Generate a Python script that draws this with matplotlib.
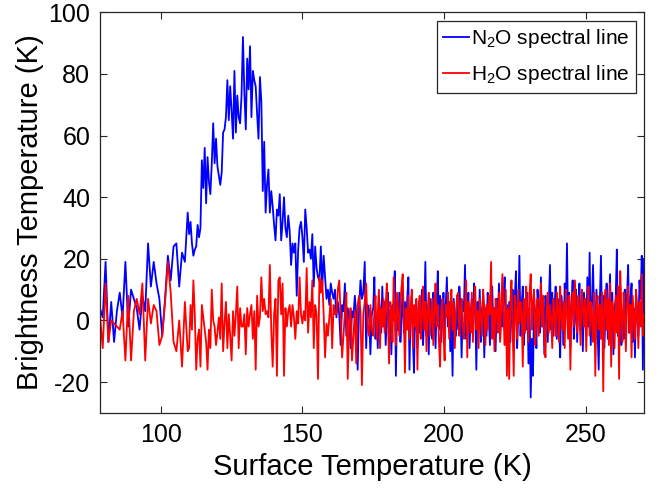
import numpy as np
import matplotlib
matplotlib.use("Agg")
import matplotlib.pyplot as plt

plt.rcParams['font.family'] = ['Liberation Sans', 'DejaVu Sans']
plt.rcParams['mathtext.fontset'] = 'custom'
plt.rcParams['mathtext.rm'] = 'Liberation Sans'
plt.rcParams['mathtext.it'] = 'Liberation Sans'
plt.rcParams['axes.unicode_minus'] = False

# sample grid segments: (start, step) - the sampling gets denser at higher T
seg_a = (78.5, 1.0)
seg_b = (110.0, 0.5)
seg_c = (142.0, 0.5)
seg_d = (175.0, 0.4)

# N2O spectral line
n2o_a = [4, 1, 19, -7, 6, -7, 3, 9, 1, 19, -2, 10, 7, 4, -3, 8,
         3, 25, 11, 19, 12, 7, -5, 7, 21, 13, 24, 25, 11, 22, 19, 35]
n2o_b = [28, 32, 25, 21, 23, 24, 31, 27, 30, 52, 43, 56, 38, 53, 45, 41,
         51, 64, 51, 59, 50, 47, 44, 48, 61, 62, 66, 78, 65, 76, 68, 59,
         81, 61, 73, 66, 64, 73, 92, 74, 62, 85, 75, 89, 66, 81, 78, 76,
         67, 59, 79, 71, 42, 58, 35, 44, 49, 35, 42, 37, 31, 26, 36, 34]
n2o_c = [41, 26, 32, 40, 30, 27, 34, 29, 18, 25, 22, 25, 8, 23, 30, 32,
         27, 19, 36, 30, 22, 23, 20, 28, 11, 24, 17, 14, 13, 24, 11, 21,
         14, 7, 10, 5, 12, 9, 7, 10, 1, 6, 2, -8, 5, 3, 12, -5,
         4, 1, -9, 3, 1, 8, 2, -16, 4, 13, 7, 9, 19, -9, 5, 3, -11, 2]
n2o_d = [4, 14, -6, 2, -9, 8, 3, -4, 11, -2, 6, -8, 1, 9, -5, 3, -11, 5, 0, 16,
         -18, 4, -3, 9, -7, 2, 10, -4, 6, -2, 7, 14, -16, 3, 8, -6, -17, 5, 1, -9,
         6, -4, 3, 10, -8, 2, 19, -5, 4, -11, 7, 0, -6, 9, 3, -9, 5, 16, -3, 8,
         -7, 2, 9, -4, 5, 14, -2, 6, -10, 3, -18, 7, 1, -5, 8, -3, 11, 4, -12, 6,
         3, 18, -6, 4, 9, -9, 2, 7, -3, 12, 5, -16, 6, -2, 10, -7, 3, 8, -12, 4,
         -5, 9, 2, -8, 6, 11, -3, 4, -10, 7, 1, 12, -6, 3, -2, 8, 14, -4, 5, -11,
         6, -7, 3, 10, -4, 8, 16, -9, 2, 21, -5, 5, 11, -8, 3, -3, 9, -14, 4, -25,
         -6, -18, 7, 2, -9, 10, 4, -4, 14, -2, 6, -11, 8, 1, -7, 5, 18, -3, 9, -5,
         4, 11, -6, 7, -1, -12, 8, 3, -8, 12, 2, 25, -4, 9, -9, 5, 13, -6, 1, 10,
         -7, 6, 12, -3, 4, -10, 9, 2, -5, 14, -2, 22, -8, 5, 18, 1, -6, 10, -3, -16,
         6, 21, -4, 8, -9, 3, 12, -6, 5, 15, -3, 9, -11, 4, 7, 23, -5, 2, 11, -8,
         3, -6, 10, 1, 8, 18, -4, 6, 12, -7, 4, -12, 9, 2, -5, 13, 7, 21, -16, 20]

# H2O spectral line
h2o_a = [2, -9, 12, -7, 0, -1, -2, -3, 3, -13, 8, -13, 3, 7, 2, 12,
         -13, 7, -1, 5, 3, -8, -5, 6, 19, 9, -7, -10, 0, -15, 6, -10]
h2o_b = [-9, 5, -3, 13, 2, -16, -6, -3, -15, 5, 1, -3, -7, -16, -3, -9,
         10, 0, -2, -8, -4, 1, -6, 12, -10, -1, 6, -9, 2, -5, -13, 3,
         -5, 2, 11, -9, 4, -2, -2, 2, -11, 4, -2, 2, 5, -6, 3, -16,
         8, -2, 1, 14, 3, 7, 2, 3, 1, 18, -3, -15, 2, 7, -18, 13]
h2o_c = [14, 2, 12, -18, 4, -2, 3, 5, -2, 5, 1, -6, 3, -1, 14, 2,
         -1, 3, 0, 17, -4, 6, 1, 13, -9, 5, 2, -19, 14, 9, 13, 2,
         -12, -1, -5, 1, 7, -9, 5, 2, 2, 10, 13, 2, -12, -5, 3, 9,
         -19, 0, 4, -13, -5, 3, -14, 5, 8, 3, -21, 2, 6, 12, -2, -5, 5, -3]
h2o_d = [-5, 3, 8, -6, 2, 10, -9, 4, -2, 7, -4, 5, 12, 0, -14, 6, 3, -7, 14, 1,
         -8, 9, 2, -5, 6, 11, 15, 1, -17, 4, -3, 8, -6, 3, 10, -9, 5, -2, 7, -16,
         4, 8, -6, 2, 11, -3, 6, -10, 3, 9, -5, 1, 7, -8, 4, 12, -2, 5, -7, -15,
         3, 7, -4, -13, 5, 1, 9, -6, 4, 10, -3, 6, -9, 2, 8, 9, -5, 3, 7, -2,
         -6, 4, 13, -12, 6, 2, -4, 9, -7, 5, 11, -3, 3, -9, 7, 1, -5, 10, 4, -8,
         5, -3, 8, 2, 19, -6, 4, -10, 7, 3, -4, 9, -7, 6, 15, 1, -8, 10, -18, 4,
         -19, 5, 13, -2, -18, 8, 3, -6, 10, -1, 6, 2, -15, 7, -4, 11, 3, -7, 9, 15,
         -3, 6, 10, -8, 2, 7, -5, 4, 12, -2, 8, -6, -12, 3, 9, -4, 5, 1, -9, 7,
         2, -5, 9, 4, -7, 11, 1, -3, 6, -9, 10, 3, -6, 8, -16, 5, 9, -2, 13, 4,
         -4, 8, 3, -8, 10, 5, -2, 7, -10, 4, 11, -5, 6, 1, -7, 9, -18, 3, 8, -3,
         5, -6, 9, -23, 4, 10, -3, 7, -8, 12, -15, 6, 2, -9, 8, -4, 11, -19, 16, 3,
         -7, 9, 2, -10, 6, 11, -4, 5, -12, 8, 1, -6, 10, 3, -9, 6, -2, 15, -5, 2]

xticks = [100, 150, 200, 250]
yticks = [-20, 0, 20, 40, 60, 80, 100]


def build(segs, parts):
    xs, ys = [], []
    for (start, step), vals in zip(segs, parts):
        xs.append(start + step * np.arange(len(vals)))
        ys.append(np.array(vals, dtype=float))
    return np.concatenate(xs), np.concatenate(ys)


segs = [seg_a, seg_b, seg_c, seg_d]
x_n2o, y_n2o = build(segs, [n2o_a, n2o_b, n2o_c, n2o_d])
x_h2o, y_h2o = build(segs, [h2o_a, h2o_b, h2o_c, h2o_d])

fig = plt.figure(figsize=(6.66, 4.95), dpi=100)
ax = fig.add_axes([0.150, 0.166, 0.817, 0.809])

ax.plot(x_n2o, y_n2o, color='#0000ff', lw=1.3, label=r'N$_2$O spectral line')
ax.plot(x_h2o, y_h2o, color='#ff0000', lw=1.3, label=r'H$_2$O spectral line')

ax.set_xlim(78.5, 270.6)
ax.set_ylim(-30, 100)
ax.set_xticks(xticks)
ax.set_yticks(yticks)
ax.tick_params(direction='in', length=5, width=0.8, labelsize=18, pad=7,
               top=True, right=True, colors='#262626', labelcolor='black')
for s in ax.spines.values():
    s.set_color('#262626')
    s.set_linewidth(0.9)

ax.set_xlabel('Surface Temperature (K)', fontsize=21, labelpad=5)
ax.set_ylabel('Brightness Temperature (K)', fontsize=21, labelpad=3)

leg = ax.legend(loc='upper right', fontsize=15, handlelength=1.25, handletextpad=0.1,
                borderpad=0.3, labelspacing=0.65, borderaxespad=0.4,
                fancybox=False, framealpha=1)
leg.get_frame().set_edgecolor('#262626')
leg.get_frame().set_linewidth(0.9)

fig.savefig('out.png', dpi=100)
